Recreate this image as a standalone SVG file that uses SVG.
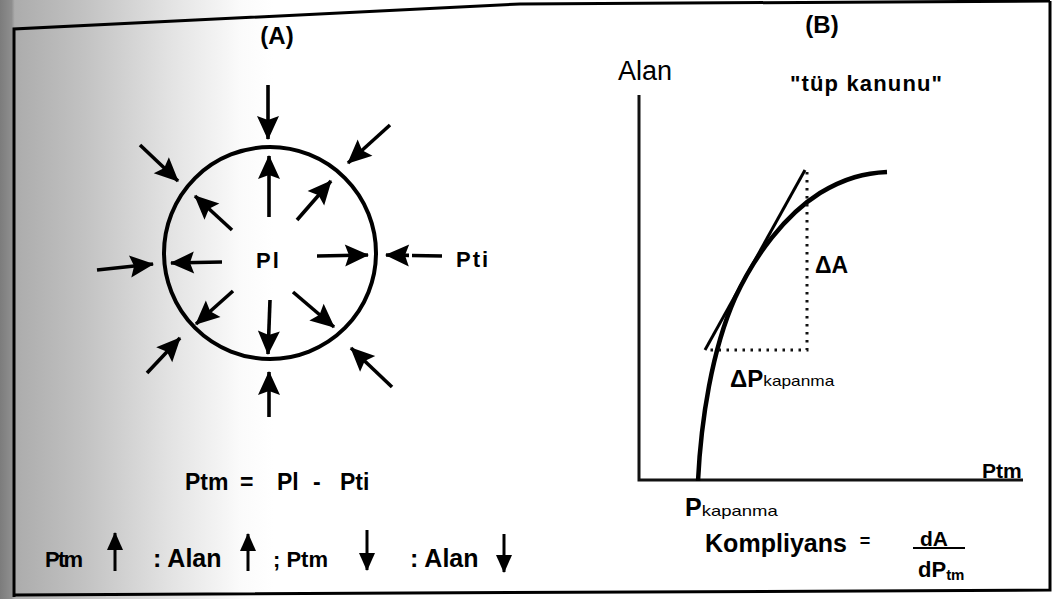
<svg xmlns="http://www.w3.org/2000/svg" width="1052" height="599" viewBox="0 0 1052 599">
<style>
  .t { font-family: "Liberation Sans", Arial, sans-serif; fill: #000; }
  .b { font-weight: bold; }
  .frame { fill: none; stroke: #000; stroke-width: 3; }
  .arr { stroke: #000; stroke-width: 3.6; fill: none; marker-end: url(#head); }
  .arrs { stroke: #000; stroke-width: 3; fill: none; marker-end: url(#heads); }
  .axis { stroke: #111; stroke-width: 3; fill: none; }
  .dot { stroke: #111; stroke-width: 3; stroke-dasharray: 2.5 5.5; fill: none; }
</style>
<defs>
  <linearGradient id="bg" gradientUnits="userSpaceOnUse" x1="0" y1="0" x2="1052" y2="0">
    <stop offset="0" stop-color="#7c7c7c"/>
    <stop offset="0.011" stop-color="#8e8e8e"/>
    <stop offset="0.014" stop-color="#acacac"/>
    <stop offset="0.08" stop-color="#c2c2c2"/>
    <stop offset="0.16" stop-color="#e2e2e2"/>
    <stop offset="0.23" stop-color="#fbfbfb"/>
    <stop offset="0.26" stop-color="#ffffff"/>
  </linearGradient>
  <marker id="head" viewBox="0 0 24 22" refX="23" refY="11" markerWidth="24" markerHeight="22" markerUnits="userSpaceOnUse" orient="auto" overflow="visible">
    <path d="M0,0 L24,11 L0,22 L4,11 Z" fill="#000"/>
  </marker>
  <marker id="heads" viewBox="0 0 18 16" refX="17" refY="8" markerWidth="18" markerHeight="16" markerUnits="userSpaceOnUse" orient="auto" overflow="visible">
    <path d="M0,0 L18,8 L0,16 Z" fill="#000"/>
  </marker>
</defs>

<rect x="0" y="0" width="1052" height="599" fill="url(#bg)"/>

<g id="frame">
  <polyline class="frame" points="14,597 14,29 520,4 1050,1"/>
  <polyline class="frame" points="1050,1 1050,590 14,595"/>
</g>

<g id="panelA-label"><text class="t b" x="277" y="44" font-size="24" text-anchor="middle">(A)</text></g>
<g id="panelB-label"><text class="t b" x="822" y="33" font-size="24" text-anchor="middle">(B)</text></g>

<g id="vessel">
  <circle cx="270" cy="253" r="106" fill="none" stroke="#000" stroke-width="4"/>
  <text class="t b" x="256" y="268" font-size="22" letter-spacing="2">Pl</text>
</g>

<g id="pti-label"><text class="t b" x="456" y="267" font-size="22" letter-spacing="2">Pti</text></g>

<g id="connectors">
  <!-- inner, outward -->
  <line class="arr" x1="269" y1="217" x2="269" y2="156"/>
  <line class="arr" x1="297" y1="220" x2="331" y2="181"/>
  <line class="arr" x1="317" y1="256" x2="368" y2="255"/>
  <line class="arr" x1="293" y1="292" x2="334" y2="327"/>
  <line class="arr" x1="270" y1="300" x2="268" y2="354"/>
  <line class="arr" x1="233" y1="291" x2="196" y2="324"/>
  <line class="arr" x1="222" y1="262" x2="171" y2="263"/>
  <line class="arr" x1="232" y1="230" x2="195" y2="196"/>
  <!-- outer, inward -->
  <line class="arr" x1="268" y1="85" x2="268" y2="139"/>
  <line class="arr" x1="390" y1="125" x2="348" y2="163"/>
  <line class="arr" x1="442" y1="256" x2="386" y2="255" stroke-dasharray="30 3 6 3 6 3"/>
  <line class="arr" x1="392" y1="387" x2="351" y2="348"/>
  <line class="arr" x1="269" y1="417" x2="269" y2="372"/>
  <line class="arr" x1="147" y1="373" x2="180" y2="338"/>
  <line class="arr" x1="97" y1="270" x2="153" y2="264"/>
  <line class="arr" x1="140" y1="145" x2="178" y2="181"/>
  <!-- legend arrows -->
  <line class="arrs" x1="115" y1="571" x2="115" y2="533"/>
  <line class="arrs" x1="248" y1="571" x2="248" y2="534"/>
  <line class="arrs" x1="367" y1="530" x2="367" y2="570"/>
  <line class="arrs" x1="504" y1="534" x2="504" y2="572"/>
</g>

<g id="formula">
  <text class="t b" y="490" font-size="23"><tspan x="185">Ptm</tspan><tspan x="240">=</tspan><tspan x="277">Pl</tspan><tspan x="313">-</tspan><tspan x="340">Pti</tspan></text>
</g>

<g id="legend">
  <text class="t b" x="45" y="567" font-size="22" textLength="38">Ptm</text>
  <text class="t b" x="153" y="567" font-size="25">: Alan</text>
  <text class="t b" x="273" y="567" font-size="22">; Ptm</text>
  <text class="t b" x="410" y="567" font-size="25">: Alan</text>
</g>

<g id="graph-axes">
  <polyline class="axis" points="639,95 639,480 1023,480"/>
  <text class="t" x="618" y="80" font-size="27">Alan</text>
  <text class="t b" x="790" y="91" font-size="22" textLength="152">"tüp kanunu"</text>
  <text class="t b" x="982" y="478" font-size="21">Ptm</text>
</g>

<g id="curve">
  <path d="M698,481 C701,420 712,350 735,298 C755,255 785,215 820,193 C845,178 865,173 887,172" fill="none" stroke="#000" stroke-width="4.5"/>
  <line x1="705" y1="350" x2="805" y2="170" stroke="#000" stroke-width="3"/>
  <polyline class="dot" points="807,172 807,350 706,350"/>
</g>

<g id="deltaA"><text class="t b" x="815" y="273" font-size="23">ΔA</text></g>
<g id="deltaP"><text class="t b" x="730" y="387" font-size="24">ΔP<tspan font-size="15" font-weight="normal" dy="-1" textLength="71" lengthAdjust="spacingAndGlyphs">kapanma</tspan></text></g>
<g id="pkapanma"><text class="t b" x="685" y="516" font-size="25">P<tspan font-size="15" font-weight="normal" textLength="76" lengthAdjust="spacingAndGlyphs">kapanma</tspan></text></g>

<g id="compliance">
  <text class="t b" x="705" y="552" font-size="25" textLength="142">Kompliyans</text>
  <text class="t b" x="865" y="547" font-size="18" text-anchor="middle">=</text>
  <text class="t b" x="920" y="546" font-size="21">dA</text>
  <line x1="913" y1="548" x2="965" y2="548" stroke="#000" stroke-width="2"/>
  <text class="t b" x="918" y="577" font-size="22">dP<tspan font-size="15" dy="3">tm</tspan></text>
</g>
</svg>
